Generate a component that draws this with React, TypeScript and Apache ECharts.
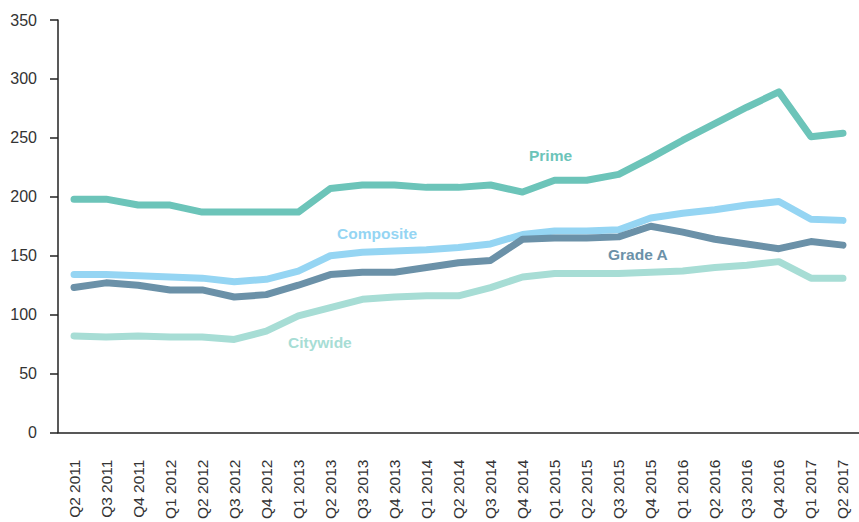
import React, { useEffect, useRef } from "react";
import * as echarts from "echarts";

const categories = [
  "Q2 2011", "Q3 2011", "Q4 2011", "Q1 2012", "Q2 2012", "Q3 2012", "Q4 2012",
  "Q1 2013", "Q2 2013", "Q3 2013", "Q4 2013", "Q1 2014", "Q2 2014", "Q3 2014",
  "Q4 2014", "Q1 2015", "Q2 2015", "Q3 2015", "Q4 2015", "Q1 2016", "Q2 2016",
  "Q3 2016", "Q4 2016", "Q1 2017", "Q2 2017",
];

const prime = [198, 198, 193, 193, 187, 187, 187, 187, 207, 210, 210, 208, 208, 210, 204, 214, 214, 219, 233, 248, 262, 276, 289, 251, 254];
const composite = [134, 134, 133, 132, 131, 128, 130, 137, 150, 153, 154, 155, 157, 160, 168, 171, 171, 172, 182, 186, 189, 193, 196, 181, 180];
const gradeA = [123, 127, 125, 121, 121, 115, 117, 125, 134, 136, 136, 140, 144, 146, 164, 165, 165, 166, 175, 170, 164, 160, 156, 162, 159];
const citywide = [82, 81, 82, 81, 81, 79, 86, 99, 106, 113, 115, 116, 116, 123, 132, 135, 135, 135, 136, 137, 140, 142, 145, 131, 131];

const yTicks = { min: 0, max: 350, interval: 50 };

const COLORS = {
  prime: "#6cc4b9",
  composite: "#95d5f3",
  gradeA: "#6b91a8",
  citywide: "#a7ddd5",
};

const FONT = "'Liberation Sans', Arial, sans-serif";

export default function App() {
  const ref = useRef<HTMLDivElement>(null);
  useEffect(() => {
    if (!ref.current) return;
    const chart = echarts.init(ref.current, null, { renderer: "svg" });
    const mk = (name: string, data: number[], color: string) => ({
      name,
      type: "line",
      data,
      symbol: "none",
      smooth: false,
      lineStyle: { color, width: 7, cap: "round", join: "round" },
      itemStyle: { color },
    });
    const label = (text: string, x: number, y: number, color: string) => ({
      type: "text",
      left: x,
      top: y,
      style: {
        text,
        fill: color,
        font: `bold 15.5px ${FONT}`,
      },
    });
    chart.setOption({
      animation: false,
      backgroundColor: "#fff",
      grid: { left: 58, right: -2, top: 20, bottom: 88, containLabel: false },
      xAxis: {
        type: "category",
        data: categories,
        boundaryGap: true,
        axisLine: { lineStyle: { color: "#222", width: 1.5 } },
        axisTick: { alignWithLabel: true, length: 8, lineStyle: { color: "#222", width: 1.5 } },
        axisLabel: {
          rotate: 90,
          interval: 0,
          margin: 27,
          color: "#333",
          fontSize: 15.5,
          fontFamily: FONT,
        },
        splitLine: { show: false },
      },
      yAxis: {
        type: "value",
        min: yTicks.min,
        max: yTicks.max,
        interval: yTicks.interval,
        axisLine: { show: true, lineStyle: { color: "#222", width: 1.5 } },
        axisTick: { show: true, length: 8, lineStyle: { color: "#222", width: 1.5 } },
        axisLabel: {
          margin: 21,
          color: "#333",
          fontSize: 16,
          fontFamily: FONT,
        },
        splitLine: { show: false },
      },
      series: [
        mk("Citywide", citywide, COLORS.citywide),
        mk("Composite", composite, COLORS.composite),
        mk("Grade A", gradeA, COLORS.gradeA),
        mk("Prime", prime, COLORS.prime),
      ],
      graphic: [
        label("Prime", 529, 147, COLORS.prime),
        label("Composite", 337, 225, COLORS.composite),
        label("Grade A", 608, 246, COLORS.gradeA),
        label("Citywide", 288, 334, COLORS.citywide),
      ],
    });
    return () => chart.dispose();
  }, []);
  return (
    <div
      ref={ref}
      style={{ position: "absolute", left: 0, top: 0, width: 859, height: 522 }}
    />
  );
}
